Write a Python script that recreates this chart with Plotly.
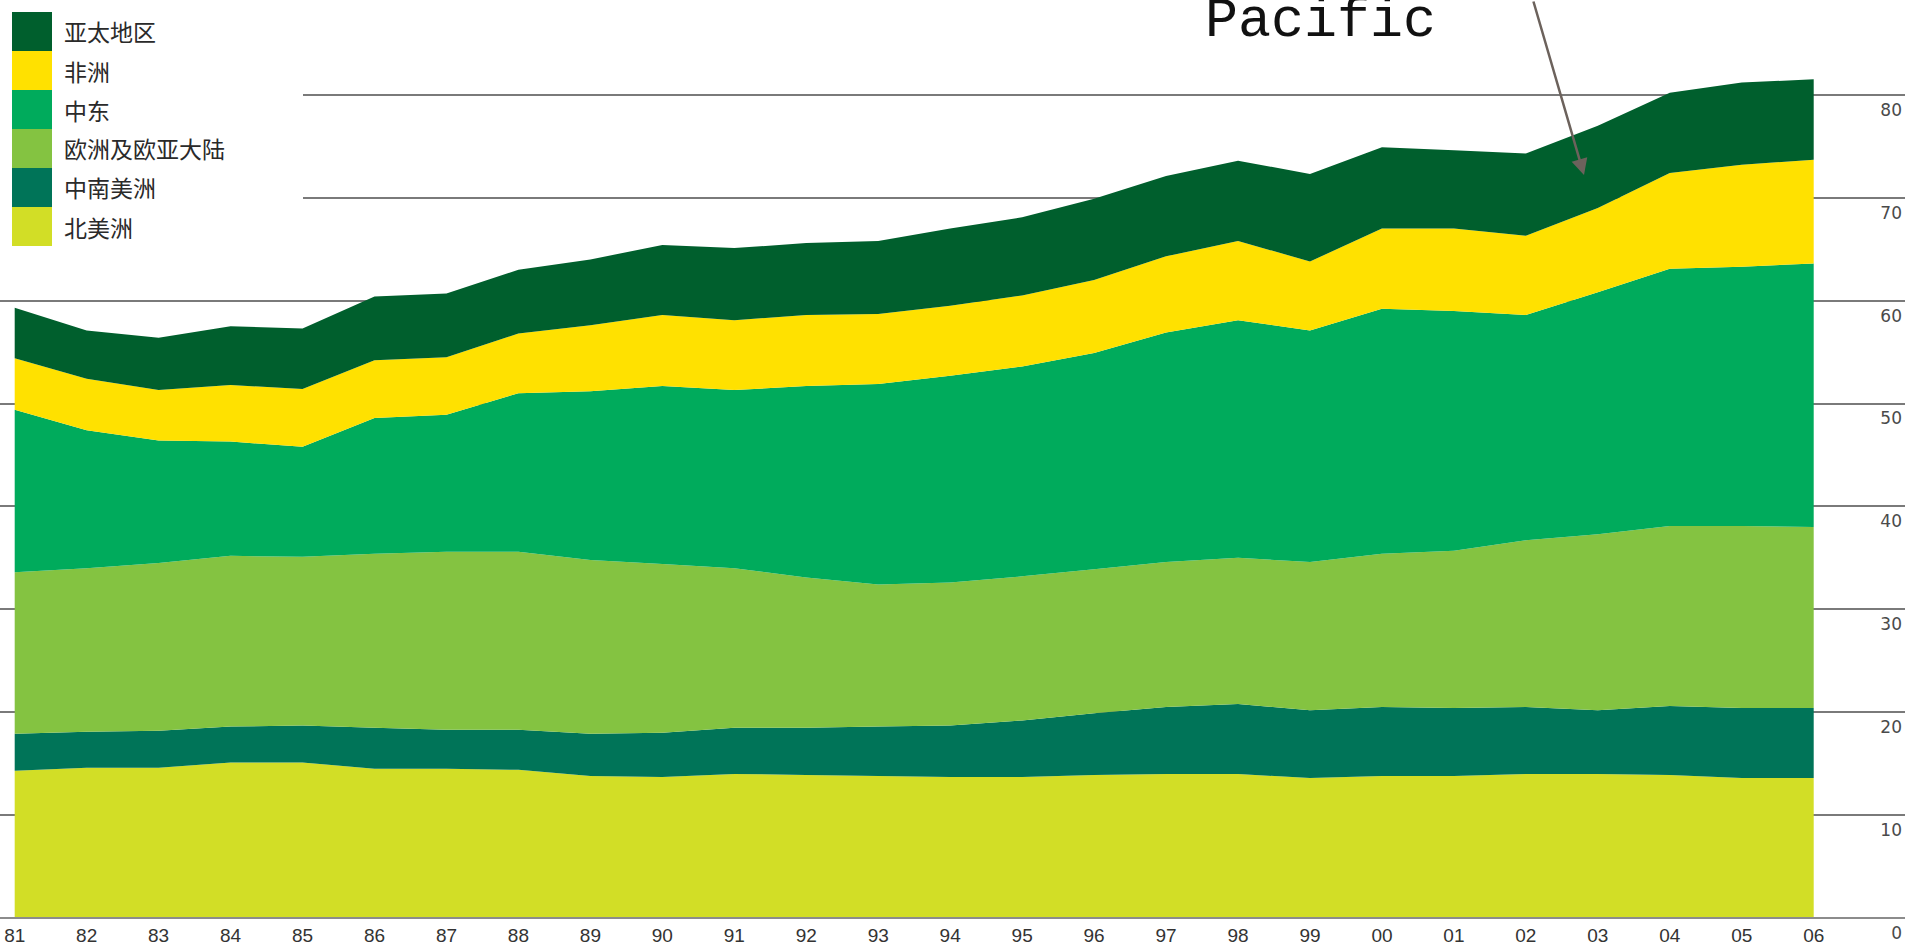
import plotly.graph_objects as go

# oil production by region, million barrels per day
years = list(range(1981, 2007))
year_labels = [f"{y % 100:02d}" for y in years]

north_america = [14.3, 14.6, 14.6, 15.1, 15.1, 14.5, 14.5, 14.4, 13.8, 13.7, 14.0, 13.9, 13.8,
                 13.7, 13.7, 13.9, 14.0, 14.0, 13.6, 13.8, 13.8, 14.0, 14.0, 13.9, 13.6, 13.6]
south_central_america = [3.6, 3.5, 3.6, 3.5, 3.6, 4.0, 3.8, 3.9, 4.1, 4.3, 4.5, 4.6, 4.8,
                         5.0, 5.5, 6.0, 6.5, 6.8, 6.6, 6.7, 6.6, 6.5, 6.2, 6.7, 6.8, 6.8]
europe_eurasia = [15.7, 15.9, 16.3, 16.6, 16.4, 16.9, 17.3, 17.3, 16.9, 16.4, 15.5, 14.6, 13.8,
                  13.9, 14.0, 14.0, 14.1, 14.2, 14.4, 14.9, 15.3, 16.2, 17.1, 17.5, 17.7, 17.6]
middle_east = [15.8, 13.4, 11.9, 11.1, 10.7, 13.2, 13.3, 15.4, 16.4, 17.3, 17.3, 18.6, 19.5,
               20.1, 20.4, 21.0, 22.3, 23.1, 22.5, 23.8, 23.3, 21.9, 23.5, 25.0, 25.2, 25.6]
africa = [5.0, 5.0, 4.9, 5.5, 5.6, 5.6, 5.6, 5.8, 6.4, 6.9, 6.8, 6.9, 6.8,
          6.8, 6.9, 7.1, 7.4, 7.7, 6.7, 7.8, 8.0, 7.7, 8.2, 9.3, 9.9, 10.1]
asia_pacific = [4.9, 4.7, 5.1, 5.7, 5.9, 6.2, 6.2, 6.2, 6.4, 6.8, 7.0, 7.0, 7.1,
                7.5, 7.6, 7.9, 7.8, 7.8, 8.5, 7.9, 7.6, 8.0, 8.0, 7.8, 8.0, 7.8]

region_names = ["北美洲", "中南美洲", "欧洲及欧亚大陆", "中东", "非洲", "亚太地区"]
region_values = [north_america, south_central_america, europe_eurasia,
                 middle_east, africa, asia_pacific]
region_colors = ["#d2de26", "#007458", "#84c341", "#00ab5c", "#ffe100", "#005f2d"]

y_ticks = list(range(0, 90, 10))

# page geometry (pixels)
W, H = 1915, 947
M_L, M_R, M_T, M_B = 0, 10, 0, 1
PW, PH = W - M_L - M_R, H - M_T - M_B
X0_PX, PX_PER_YEAR = 14.7, 71.96
ZERO_PX, PX_PER_UNIT = 918, 10.29


def px_x(px):
    return px / PW


def px_y(py):
    return (PH - py) / PH


fig = go.Figure()
for name, vals, color in zip(region_names, region_values, region_colors):
    fig.add_trace(go.Scatter(
        x=years, y=vals, name=name, stackgroup="one", mode="none",
        fillcolor=color, line=dict(width=0), hoverinfo="x+y+name"
    ))

x_range = [years[0] - X0_PX / PX_PER_YEAR, years[0] + (PW - X0_PX) / PX_PER_YEAR]
y_range = [-(PH - ZERO_PX) / PX_PER_UNIT, ZERO_PX / PX_PER_UNIT]

fig.update_layout(
    template="none",
    width=W, height=H,
    margin=dict(l=M_L, r=M_R, t=M_T, b=M_B, pad=0),
    paper_bgcolor="white", plot_bgcolor="white",
    showlegend=False,
    xaxis=dict(
        range=x_range, tickvals=years, ticktext=year_labels,
        showgrid=False, zeroline=False, automargin=False,
        anchor="free", position=(PH - ZERO_PX) / PH,
        showline=True, linecolor="#8c8c8c", linewidth=2,
        ticks="", ticklabelstandoff=0,
        tickfont=dict(family="Liberation Sans, Arial", size=19, color="#333333"),
    ),
    yaxis=dict(
        range=y_range, tickvals=y_ticks, side="right", automargin=False,
        showgrid=True, gridcolor="#7a7a7a", gridwidth=1.6,
        zeroline=True, zerolinecolor="#8c8c8c", zerolinewidth=2,
        showline=False, ticks="", ticklabelposition="inside", ticklabelshift=15,
        tickfont=dict(family="DejaVu Sans", size=17, color="#4a4a4a"),
    ),
)

# legend block: white backing over the gridlines, stacked colour squares
shapes = [dict(type="rect", xref="paper", yref="paper",
               x0=px_x(0), x1=px_x(303), y0=px_y(262), y1=px_y(0),
               fillcolor="white", line=dict(width=0), layer="above")]
annotations = []
row_h, top = 39, 12
for i, (name, color) in enumerate(zip(region_names[::-1], region_colors[::-1])):
    y_top = top + i * row_h
    shapes.append(dict(type="rect", xref="paper", yref="paper",
                       x0=px_x(12), x1=px_x(52), y0=px_y(y_top + row_h), y1=px_y(y_top),
                       fillcolor=color, line=dict(width=0), layer="above"))
    annotations.append(dict(xref="paper", yref="paper", x=px_x(62), y=px_y(y_top + row_h / 2),
                            text=name, showarrow=False, xanchor="left", yanchor="middle",
                            font=dict(family="Noto Sans CJK SC", size=23, color="#2a2a2a")))

# "Pacific" label and its arrow (cut by the top of the picture)
annotations.append(dict(xref="paper", yref="paper", x=px_x(1203), y=px_y(43),
                        text="Pacific", showarrow=False, xanchor="left", yanchor="bottom",
                        yshift=-12,
                        font=dict(family="Liberation Mono", size=55, color="#111111")))
annotations.append(dict(xref="paper", yref="paper", x=px_x(1584), y=px_y(175),
                        text="", showarrow=True, arrowhead=2, arrowsize=1.3, arrowwidth=2.5,
                        arrowcolor="#6c625c", ax=-51, ay=-185))

fig.update_layout(shapes=shapes, annotations=annotations)

# drop the browser's default page margin so the figure sits at the top-left corner
fig.write_html("out.html", config={"displayModeBar": False},
               post_script="document.body.style.margin='0';")
